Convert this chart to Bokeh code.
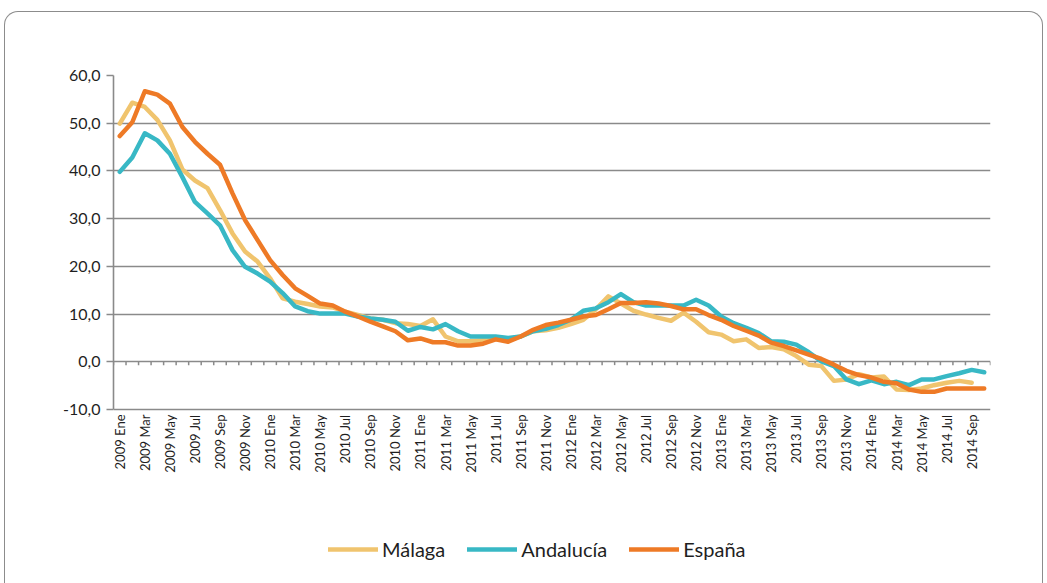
import math
from bokeh.plotting import figure
from bokeh.models import (FixedTicker, Legend, LegendItem, Range1d,
                          ColumnDataSource, InlineStyleSheet)
from bokeh.core.properties import value
from bokeh.embed import file_html
from bokeh.resources import INLINE

# ---------------- data ----------------
years = [2009, 2010, 2011, 2012, 2013, 2014]
months = ["Ene", "Feb", "Mar", "Abr", "May", "Jun", "Jul", "Ago", "Sep", "Oct", "Nov", "Dic"]
categories = [f"{y} {m}" for y in years for m in months][:70]   # 2009 Ene .. 2014 Oct

malaga = [49.9, 54.3, 53.4, 50.7, 46.4, 40.3, 38.0, 36.4, 31.8, 26.9,
          23.1, 21.0, 17.5, 13.3, 12.6, 12.1, 11.6, 11.4, 10.5, 9.8,
          9.1, 8.8, 8.1, 7.9, 7.5, 8.9, 5.3, 4.3, 4.3, 4.5,
          4.7, 4.7, 5.3, 6.4, 6.6, 7.1, 7.9, 8.8, 11.0, 13.7,
          12.2, 10.7, 9.9, 9.2, 8.6, 10.3, 8.4, 6.2, 5.7, 4.3,
          4.7, 2.9, 3.1, 2.6, 1.2, -0.6, -0.9, -4.0, -3.7, -2.6,
          -3.3, -3.1, -5.8, -5.9, -5.6, -4.9, -4.4, -4.0, -4.4]

andalucia = [39.8, 42.8, 47.9, 46.4, 43.6, 38.7, 33.5, 31.1, 28.6, 23.4,
             19.9, 18.5, 16.8, 14.4, 11.6, 10.6, 10.1, 10.1, 10.1, 9.5,
             9.1, 8.8, 8.4, 6.5, 7.3, 6.8, 7.9, 6.4, 5.3, 5.3,
             5.3, 5.0, 5.3, 6.4, 6.9, 7.7, 8.8, 10.7, 11.2, 12.5,
             14.2, 12.5, 11.8, 11.8, 11.8, 11.8, 13.0, 11.8, 9.5, 8.1,
             7.1, 6.0, 4.3, 4.2, 3.6, 2.0, 0.1, -0.9, -3.7, -4.7,
             -3.9, -4.7, -4.2, -4.9, -3.7, -3.7, -3.0, -2.4, -1.7, -2.2]

espana = [47.3, 50.2, 56.7, 56.0, 54.1, 49.2, 46.1, 43.6, 41.3, 35.3,
          29.7, 25.5, 21.3, 18.2, 15.4, 13.8, 12.2, 11.8, 10.5, 9.5,
          8.4, 7.4, 6.4, 4.5, 4.9, 4.1, 4.1, 3.4, 3.4, 3.8,
          4.7, 4.2, 5.3, 6.7, 7.7, 8.2, 8.8, 9.5, 9.8, 11.0,
          12.3, 12.3, 12.5, 12.2, 11.7, 11.0, 11.0, 9.8, 8.8, 7.5,
          6.5, 5.5, 4.0, 3.3, 2.4, 1.5, 0.6, -0.6, -1.9, -2.8,
          -3.3, -4.2, -4.5, -5.8, -6.3, -6.3, -5.6, -5.6, -5.6, -5.6]

y_ticks = [-10, 0, 10, 20, 30, 40, 50, 60]
y_labels = ["-10,0", "0,0", "10,0", "20,0", "30,0", "40,0", "50,0", "60,0"]

series_names = ["Málaga", "Andalucía", "España"]
series_colors = ["#F0C46E", "#38B8C5", "#EE7A26"]

# ---------------- layout (pixels) ----------------
W, H = 1047, 583
LEFT, RIGHT, TOP, BOTTOM = 113, 990, 75, 575      # frame edges
AXIS_BOTTOM = 409                                 # pixel row of the lowest y tick
px_per_unit = (AXIS_BOTTOM - TOP) / (y_ticks[-1] - y_ticks[0])
y_start = y_ticks[0] - (BOTTOM - AXIS_BOTTOM) / px_per_unit

FONT = "Lato"
TXT = "#1f1f1f"
GRID = "#8a8a8a"

n = len(categories)
p = figure(width=W, height=H, output_backend="svg", toolbar_location=None,
           x_range=Range1d(-0.5, n - 0.5), y_range=Range1d(y_start, y_ticks[-1]),
           min_border_left=LEFT, min_border_right=W - RIGHT, min_border_top=TOP,
           min_border_bottom=H - BOTTOM)
p.outline_line_color = None
p.background_fill_color = "white"
p.border_fill_color = "white"

p.xgrid.visible = False
p.ygrid.grid_line_color = GRID
p.ygrid.grid_line_width = 1.6
p.ygrid.ticker = FixedTicker(ticks=y_ticks)

yax = p.yaxis[0]
yax.ticker = FixedTicker(ticks=y_ticks)
yax.bounds = (y_ticks[0], y_ticks[-1])
yax.major_label_overrides = {t: l for t, l in zip(y_ticks, y_labels)}
yax.axis_line_color = GRID
yax.axis_line_width = 1.6
yax.major_tick_line_color = GRID
yax.major_tick_line_width = 1.6
yax.major_tick_out = 7
yax.major_tick_in = 0
yax.minor_tick_line_color = None
yax.major_label_text_font = FONT
yax.major_label_text_font_size = "16px"
yax.major_label_text_color = TXT
yax.major_label_standoff = 6

p.xaxis.visible = False

# category labels under the lowest gridline (every second month)
label_idx = list(range(0, n, 2))
lab_src = ColumnDataSource(dict(x=label_idx, y=[y_ticks[0]] * len(label_idx),
                                t=[categories[i] for i in label_idx]))
p.text(x="x", y="y", text="t", source=lab_src, angle=math.pi / 2,
       text_align="right", text_baseline="middle", y_offset=5,
       text_font=value(FONT), text_font_size="13px", text_color=TXT)

# category-boundary tick marks along the zero line
bounds = [i - 0.5 for i in range(n + 1)]
p.segment(x0=bounds, y0=[0] * len(bounds), x1=bounds, y1=[-0.7] * len(bounds),
          line_color=GRID, line_width=1.5)

renderers = []
for name, vals, col in zip(series_names, [malaga, andalucia, espana], series_colors):
    src = ColumnDataSource(dict(x=list(range(len(vals))), y=vals))
    r = p.line("x", "y", source=src, line_color=col, line_width=4.5,
               line_join="round", line_cap="round")
    renderers.append(r)

legend = Legend(items=[LegendItem(label=nm, renderers=[r]) for nm, r in zip(series_names, renderers)],
                orientation="horizontal", location=(328 - LEFT, BOTTOM - 561),
                glyph_width=50, glyph_height=20, label_text_font=FONT,
                label_text_font_size="20px", label_text_color=TXT,
                spacing=22, label_standoff=4, padding=0, margin=0,
                border_line_color=None, background_fill_alpha=0)
p.add_layout(legend)

# rounded outer border
p.stylesheets = [InlineStyleSheet(css=""":host::after {
  content: ""; position: absolute; left: 4px; top: 11px; right: 4px; bottom: 0px;
  border: 1.5px solid #8c8c8c; border-bottom: none; border-radius: 14px 14px 0 0;
  pointer-events: none; }""")]

open("out.html", "w").write(file_html(p, INLINE))
